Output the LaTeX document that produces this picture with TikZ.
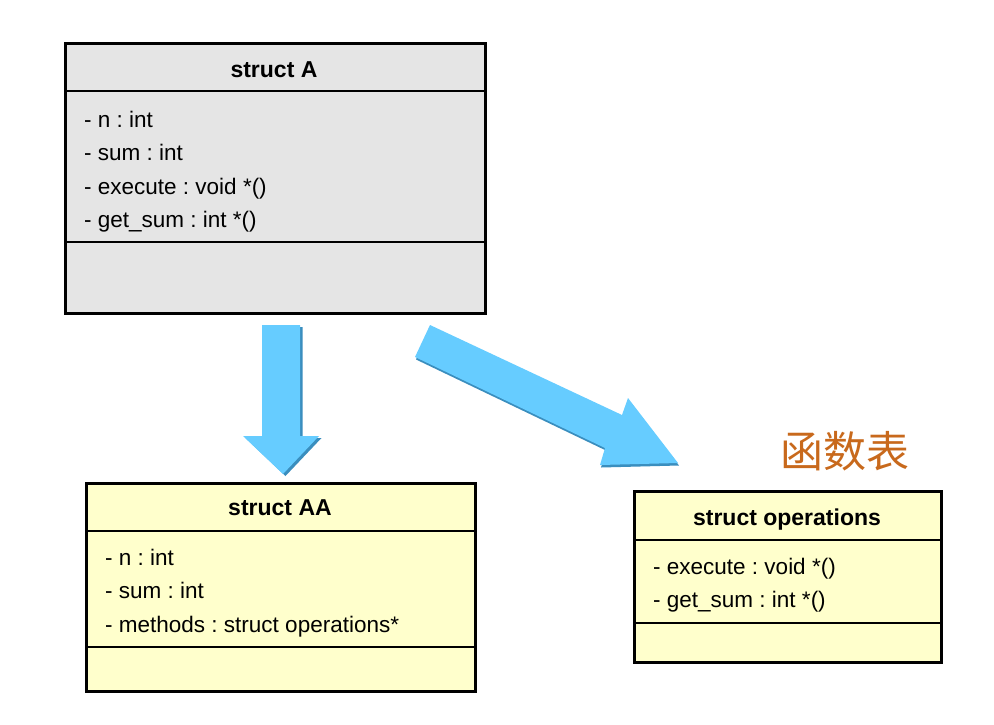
\documentclass[tikz,border=0pt]{standalone}
\usepackage{fontspec}
\setmainfont{Liberation Sans}
\newfontfamily\cjkfont{Noto Sans CJK SC}
\definecolor{boxgray}{HTML}{E5E5E5}
\definecolor{boxyellow}{HTML}{FFFFCC}
\definecolor{arrowblue}{HTML}{66CCFF}
\definecolor{arrowshade}{HTML}{3A8EBE}
\definecolor{cjkorange}{HTML}{C8691C}
\frenchspacing
\begin{document}
\begin{tikzpicture}[x=1pt,y=-1pt,
  umlbox/.style={draw=black, line width=2.8pt, inner sep=0pt, anchor=north west},
  divider/.style={draw=black, line width=1.6pt},
  attr/.style={anchor=base west, inner sep=0pt, font=\fontsize{22.5}{27}\selectfont},
  titletext/.style={anchor=base, inner sep=0pt, font=\fontsize{23}{27}\selectfont\bfseries},
  cjklabel/.style={inner sep=0pt, text=cjkorange, font=\cjkfont\fontsize{43}{50}\selectfont},
  blockarrow/.style={fill=arrowblue},
  blockshade/.style={fill=arrowshade}
]
\useasboundingbox (0,0) rectangle (994,724);

% struct A
\node[umlbox, fill=boxgray, minimum width=420pt, minimum height=270pt] (A) at (64,42) {};
\draw[divider] (A.west |- 0,91) -- (A.east |- 0,91);
\draw[divider] (A.west |- 0,242) -- (A.east |- 0,242);
\node[titletext] (At) at (274,77) {struct A};
\node[attr] (A1) at (84,127) {- n : int};
\node[attr] (A2) at (84,160.5) {- sum : int};
\node[attr] (A3) at (84,194) {- execute : void *()};
\node[attr] (A4) at (84,227) {- get\_sum : int *()};

% struct AA
\node[umlbox, fill=boxyellow, minimum width=389pt, minimum height=208pt] (AA) at (85,482) {};
\draw[divider] (AA.west |- 0,531) -- (AA.east |- 0,531);
\draw[divider] (AA.west |- 0,647) -- (AA.east |- 0,647);
\node[titletext] (AAt) at (280,515) {struct AA};
\node[attr] (AA1) at (105,565) {- n : int};
\node[attr] (AA2) at (105,598.5) {- sum : int};
\node[attr] (AA3) at (105,632) {- methods : struct operations*};

% struct operations
\node[umlbox, fill=boxyellow, minimum width=307pt, minimum height=171pt] (OP) at (633,490) {};
\draw[divider] (OP.west |- 0,540) -- (OP.east |- 0,540);
\draw[divider] (OP.west |- 0,623) -- (OP.east |- 0,623);
\node[titletext] (OPt) at (787,525) {struct operations};
\node[attr] (OP1) at (653,574) {- execute : void *()};
\node[attr] (OP2) at (653,607.5) {- get\_sum : int *()};

% label
\node[cjklabel] (fn) at (845,451) {函数表};

% down block arrow (A -> AA)
\fill[blockshade, shift={(2.5,2)}] (262,325) -- (300,325) -- (300,436) -- (319,436) -- (283,474) -- (243,436) -- (262,436) -- cycle;
\fill[blockarrow] (262,325) -- (300,325) -- (300,436) -- (319,436) -- (283,474) -- (243,436) -- (262,436) -- cycle;

% diagonal block arrow (A -> operations)
\fill[blockshade, shift={(1,2.5)}] (430,325) -- (622,415) -- (628,398) -- (678,463) -- (600,465) -- (605,448) -- (415,357) -- cycle;
\fill[blockarrow] (430,325) -- (622,415) -- (628,398) -- (678,463) -- (600,465) -- (605,448) -- (415,357) -- cycle;
\end{tikzpicture}
\end{document}
